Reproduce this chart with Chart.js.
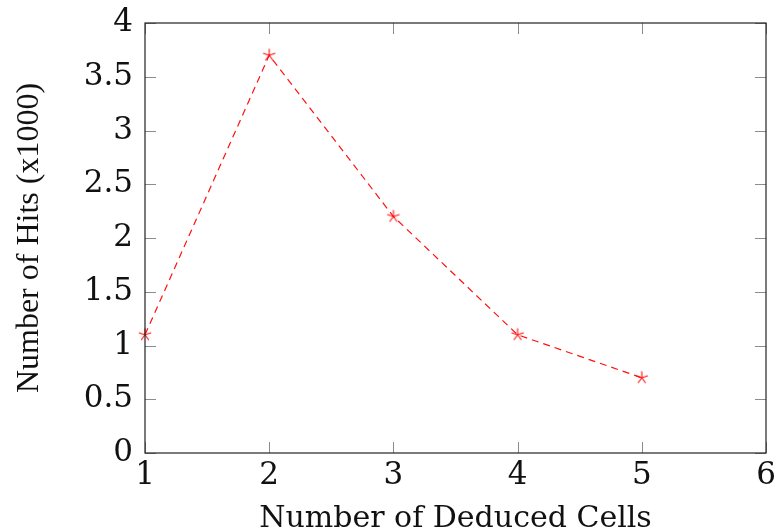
<!DOCTYPE html>
<html><head><meta charset="utf-8">
<script src="https://cdn.jsdelivr.net/npm/chart.js@4.4.0/dist/chart.umd.min.js"></script>
<style>html,body{margin:0;padding:0;background:#fff}#wrap{width:776px;height:532px}</style>
</head><body><div id="wrap"><canvas id="c" width="776" height="532"></canvas></div>
<script>
const xValues = [1, 2, 3, 4, 5];
const hits = [1.1, 3.7, 2.2, 1.1, 0.7];
const xTicks = [1, 2, 3, 4, 5, 6];
const yTicks = [0, 0.5, 1, 1.5, 2, 2.5, 3, 3.5, 4];
const xTitle = 'Number of Deduced Cells';
const yTitle = 'Number of Hits (x1000)';

const WIDE = "'DejaVu Serif', 'Liberation Serif', serif";
const NARROW = "'Liberation Serif', 'DejaVu Serif', serif";

function makeStar(color) {
  const s = 16, c = document.createElement('canvas');
  c.width = s; c.height = s;
  const g = c.getContext('2d');
  g.strokeStyle = color; g.lineWidth = 1.1;
  const r = 6.5;
  for (let i = 0; i < 5; i++) {
    const a = -Math.PI / 2 + i * 2 * Math.PI / 5;
    g.beginPath(); g.moveTo(s / 2, s / 2);
    g.lineTo(s / 2 + r * Math.cos(a), s / 2 + r * Math.sin(a)); g.stroke();
  }
  return c;
}
const star = makeStar('#ff1010');

const innerTicks = {
  id: 'innerTicks',
  afterDraw(chart) {
    const ctx = chart.ctx, a = chart.chartArea;
    const xs = chart.scales.x, ys = chart.scales.y;
    const L = 11;
    ctx.save();
    ctx.strokeStyle = '#8c8c8c'; ctx.lineWidth = 1;
    xTicks.forEach(v => {
      const px = Math.round(xs.getPixelForValue(v)) + 0.5;
      ctx.beginPath(); ctx.moveTo(px, a.bottom); ctx.lineTo(px, a.bottom - L); ctx.stroke();
      ctx.beginPath(); ctx.moveTo(px, a.top); ctx.lineTo(px, a.top + L); ctx.stroke();
    });
    yTicks.forEach(v => {
      const py = Math.round(ys.getPixelForValue(v)) + 0.5;
      ctx.beginPath(); ctx.moveTo(a.left, py); ctx.lineTo(a.left + L, py); ctx.stroke();
      ctx.beginPath(); ctx.moveTo(a.right, py); ctx.lineTo(a.right - L, py); ctx.stroke();
    });
    ctx.strokeStyle = '#222'; ctx.lineWidth = 1.2;
    ctx.strokeRect(a.left, a.top, a.right - a.left, a.bottom - a.top);
    ctx.restore();
  }
};

new Chart(document.getElementById('c'), {
  type: 'line',
  data: {
    datasets: [{
      data: xValues.map((x, i) => ({ x: x, y: hits[i] })),
      borderColor: '#ff1010',
      borderWidth: 1.2,
      borderDash: [7, 5],
      pointStyle: star,
      pointRadius: 7,
      tension: 0,
      fill: false
    }]
  },
  options: {
    responsive: false,
    animation: false,
    clip: false,
    layout: { padding: { left: 10, top: 23, right: 10, bottom: 0 } },
    plugins: { legend: { display: false }, tooltip: { enabled: false } },
    scales: {
      x: {
        type: 'linear', min: 1, max: 6,
        afterBuildTicks: s => { s.ticks = xTicks.map(v => ({ value: v })); },
        afterFit: s => { s.height = 79; s.paddingLeft = 0; s.paddingRight = 0; },
        grid: { display: false, drawTicks: false },
        border: { display: false },
        ticks: { color: '#111', font: { family: WIDE, size: 31 }, padding: 4, maxRotation: 0,
                 callback: v => String(v) },
        title: { display: true, text: xTitle, color: '#111', font: { family: WIDE, size: 30 }, padding: { top: 0, bottom: -5 } }
      },
      y: {
        type: 'linear', min: 0, max: 4,
        afterBuildTicks: s => { s.ticks = yTicks.map(v => ({ value: v })); },
        afterFit: s => { s.width = 135; s.paddingTop = 0; s.paddingBottom = 0; },
        grid: { display: false, drawTicks: false },
        border: { display: false },
        ticks: { color: '#111', font: { family: WIDE, size: 31 }, padding: 12,
                 callback: v => String(v) },
        title: { display: true, text: yTitle, color: '#111', font: { family: NARROW, size: 32 }, padding: { top: 0, bottom: 0 } }
      }
    }
  },
  plugins: [innerTicks]
});
</script>
</body></html>
